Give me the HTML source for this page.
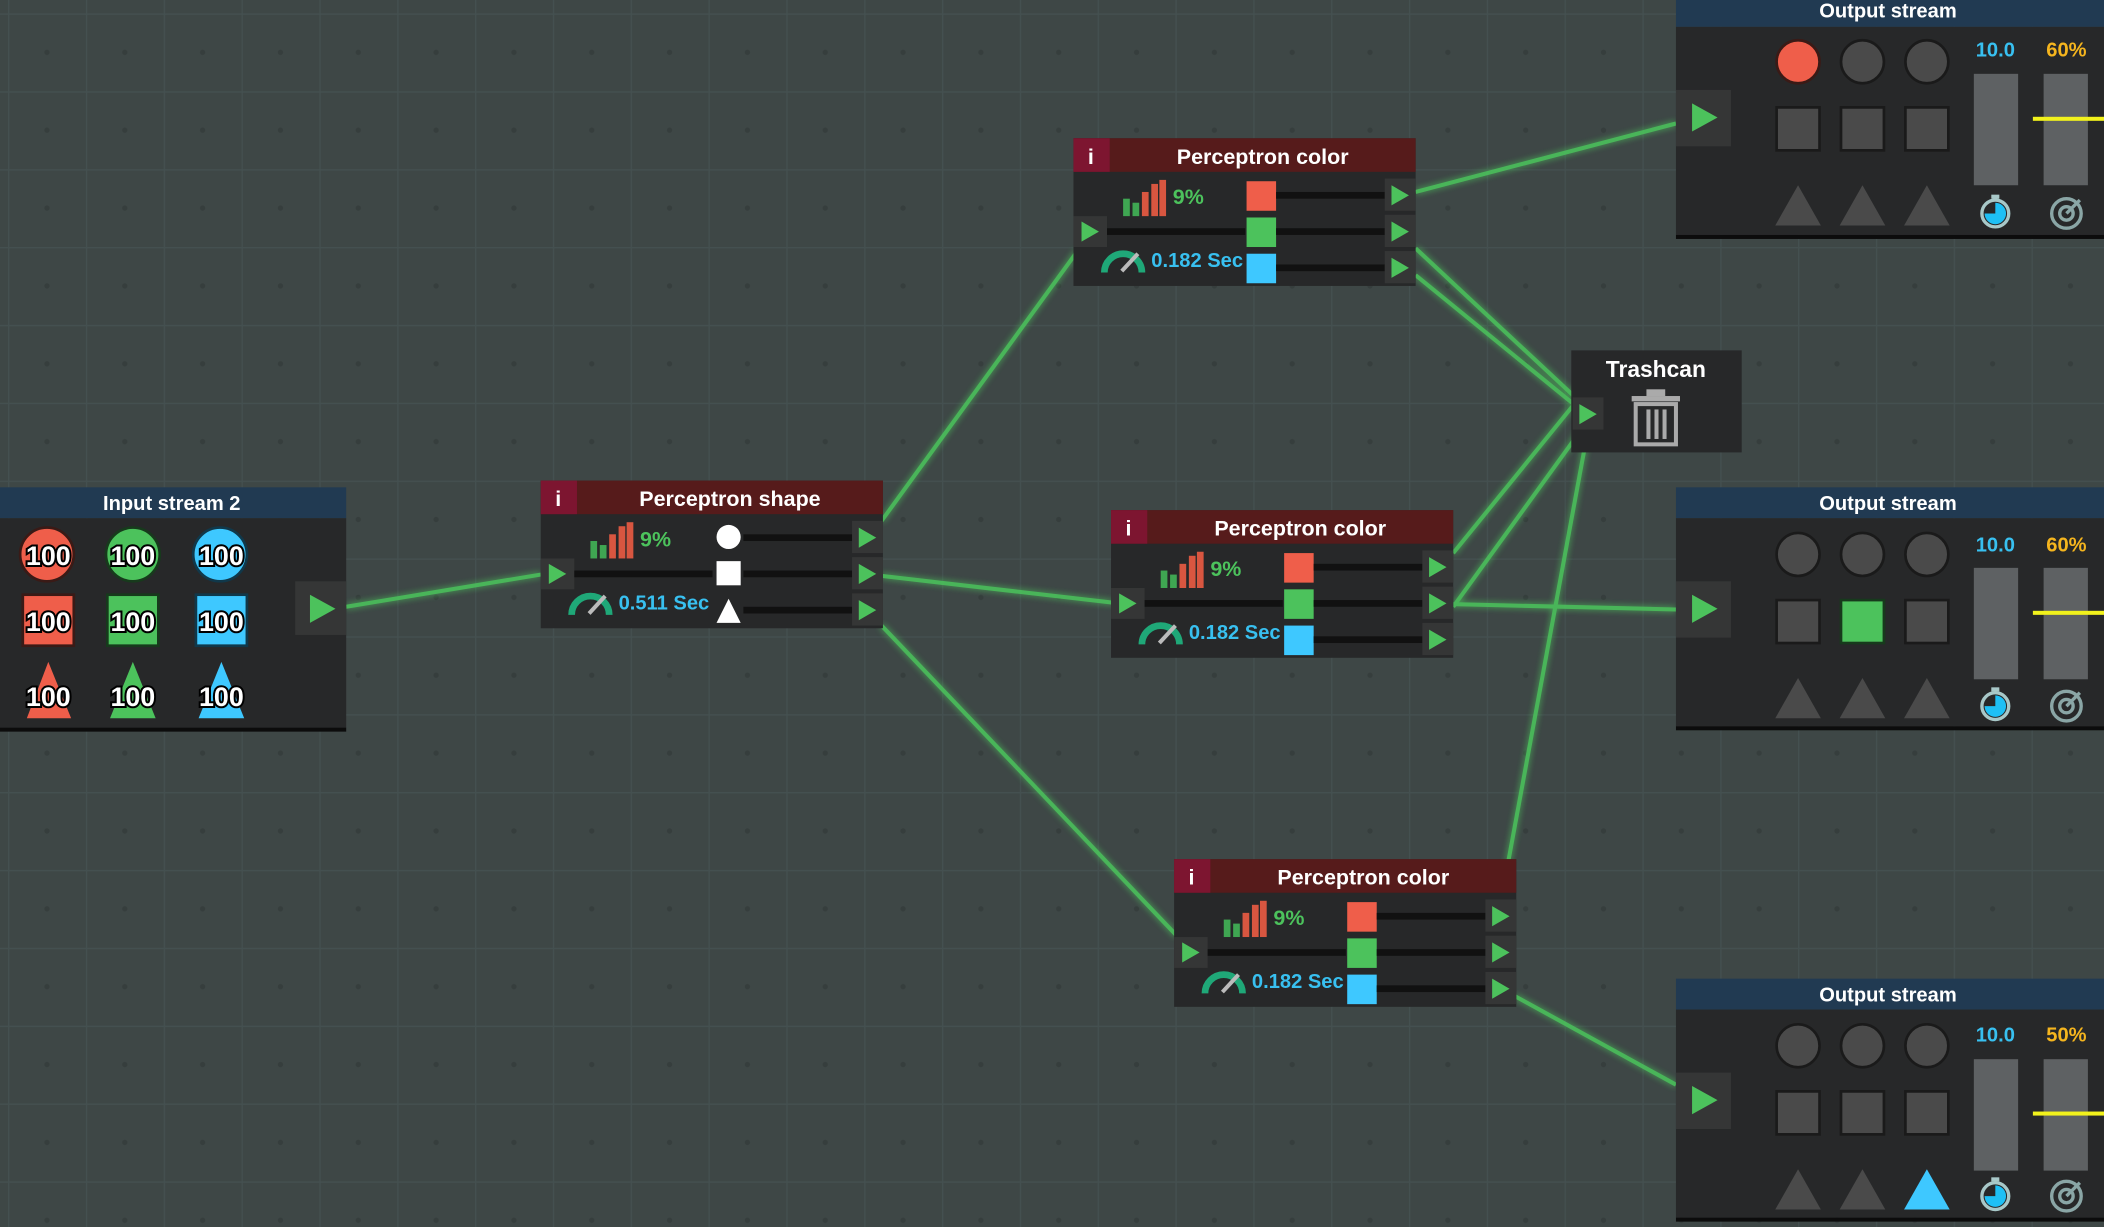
<!DOCTYPE html>
<html><head><meta charset="utf-8"><style>
html,body{margin:0;padding:0;background:#3e4746;overflow:hidden}
svg{display:block}
text{font-family:"Liberation Sans",sans-serif;font-weight:bold}
</style></head><body>
<svg width="2104" height="1227" viewBox="0 0 1568 914" preserveAspectRatio="none" xmlns="http://www.w3.org/2000/svg">
<defs>
<pattern id="grid" x="6" y="10" width="58" height="58" patternUnits="userSpaceOnUse">
<rect width="58" height="58" fill="#3e4746"/>
<path d="M0 0.5H58M0.5 0V58" stroke="#445050" stroke-width="1"/>
<circle cx="29" cy="29" r="2" fill="#363e3d"/>
</pattern>
<filter id="glow" x="-20%" y="-20%" width="140%" height="140%"><feGaussianBlur stdDeviation="2.5" result="b"/><feMerge><feMergeNode in="b"/><feMergeNode in="SourceGraphic"/></feMerge></filter>
</defs>
<rect width="1568" height="914" fill="url(#grid)"/>

<!-- connectors -->
<g stroke="#4cc25c" stroke-width="3" fill="none" filter="url(#glow)" opacity="0.9">
<line x1="258" y1="452" x2="403" y2="428"/>
<line x1="657" y1="388" x2="803" y2="187"/>
<line x1="657" y1="429" x2="830" y2="449"/>
<line x1="657" y1="466" x2="877" y2="697"/>
<line x1="1055" y1="143" x2="1249" y2="92"/>
<line x1="1055" y1="185" x2="1174" y2="296"/>
<line x1="1055" y1="205" x2="1174" y2="302"/>
<line x1="1083" y1="412" x2="1174" y2="300"/>
<line x1="1083" y1="452" x2="1180" y2="318"/>
<line x1="1083" y1="450" x2="1249" y2="454"/>
<line x1="1124" y1="642" x2="1182" y2="328"/>
<line x1="1129" y1="742" x2="1249" y2="808"/>
</g>

<!-- Input stream 2 -->
<g transform="translate(0,363)">
<rect x="0" y="0" width="258" height="23" fill="#213a52"/>
<rect x="0" y="23" width="258" height="156" fill="#272829"/>
<rect x="0" y="179" width="258" height="3" fill="#0c0c0c"/>
<text x="128" y="17" fill="#fff" font-size="15" text-anchor="middle">Input stream 2</text>
<circle cx="35" cy="50" r="20" fill="#ef5e4a" stroke="#3a1a16" stroke-width="2"/>
<circle cx="99" cy="50" r="20" fill="#4cc25c" stroke="#173a1c" stroke-width="2"/>
<circle cx="164" cy="50" r="20" fill="#3ec8ff" stroke="#10384a" stroke-width="2"/>
<rect x="17" y="80" width="38" height="38" fill="#ef5e4a" stroke="#3a1a16" stroke-width="2"/>
<rect x="80" y="80" width="38" height="38" fill="#4cc25c" stroke="#173a1c" stroke-width="2"/>
<rect x="146" y="80" width="38" height="38" fill="#3ec8ff" stroke="#10384a" stroke-width="2"/>
<polygon points="20,172 36,130 53,172" fill="#ef5e4a"/>
<polygon points="82,172 99,130 116,172" fill="#4cc25c"/>
<polygon points="148,172 165,130 182,172" fill="#3ec8ff"/>
<g font-size="20" fill="#fff" stroke="#000" stroke-width="3" paint-order="stroke" text-anchor="middle">
<text x="36" y="58">100</text><text x="99" y="58">100</text><text x="165" y="58">100</text>
<text x="36" y="107">100</text><text x="99" y="107">100</text><text x="165" y="107">100</text>
<text x="36" y="163">100</text><text x="99" y="163">100</text><text x="165" y="163">100</text>
</g>
<rect x="220" y="70" width="38" height="40" fill="#353636"/>
<polygon points="231,80 231,101 250,90.5" fill="#4cc25c"/>
</g>

<!-- Perceptron shape -->
<g transform="translate(403,358)">
<rect width="255" height="110" fill="#272829"/>
<rect width="255" height="25" fill="#561b1b"/>
<rect width="27" height="25" fill="#7d1530"/>
<text x="13" y="19" fill="#fff" font-size="16" text-anchor="middle">i</text>
<text x="141" y="19" fill="#fff" font-size="16" text-anchor="middle">Perceptron shape</text>
<rect x="0" y="58" width="25" height="23" fill="#353636"/><polygon points="6,62 6,77 19,69.5" fill="#4cc25c"/>
<rect x="25" y="67" width="103" height="5" fill="#111"/>
<rect x="37" y="45" width="5" height="13" fill="#3fa652"/><rect x="44" y="48" width="5" height="10" fill="#3fa652"/>
<rect x="51" y="40" width="5" height="18" fill="#d85640"/><rect x="58" y="34" width="5" height="24" fill="#d85640"/><rect x="64" y="31" width="5" height="27" fill="#d85640"/>
<text x="74" y="49" fill="#4cc25c" font-size="16">9%</text>
<path d="M23 100 A14 14 0 0 1 51 100" stroke="#1fa878" stroke-width="5" fill="none"/>
<line x1="36" y1="99" x2="48" y2="86" stroke="#bbb" stroke-width="3"/>
<text x="58" y="96" fill="#38c0f0" font-size="15">0.511 Sec</text>
<circle cx="140" cy="42" r="9" fill="#fff"/>
<rect x="131" y="60" width="18" height="18" fill="#fff"/>
<polygon points="131,106 140,88 149,106" fill="#fff"/>
<rect x="151" y="40" width="81" height="5" fill="#111"/><rect x="151" y="67" width="81" height="5" fill="#111"/><rect x="151" y="94" width="81" height="5" fill="#111"/>
<rect x="232" y="30" width="23" height="24" fill="#353636"/><polygon points="237,35 237,50 250,42.5" fill="#4cc25c"/>
<rect x="232" y="57" width="23" height="24" fill="#353636"/><polygon points="237,62 237,77 250,69.5" fill="#4cc25c"/>
<rect x="232" y="84" width="23" height="24" fill="#353636"/><polygon points="237,89 237,104 250,96.5" fill="#4cc25c"/>
</g>

<!-- Perceptron color x3 -->
<g transform="translate(800,103)">
<rect width="255" height="110" fill="#272829"/>
<rect width="255" height="25" fill="#561b1b"/>
<rect width="27" height="25" fill="#7d1530"/>
<text x="13" y="19" fill="#fff" font-size="16" text-anchor="middle">i</text>
<text x="141" y="19" fill="#fff" font-size="16" text-anchor="middle">Perceptron color</text>
<rect x="0" y="58" width="25" height="23" fill="#353636"/><polygon points="6,62 6,77 19,69.5" fill="#4cc25c"/>
<rect x="25" y="67" width="103" height="5" fill="#111"/>
<rect x="37" y="45" width="5" height="13" fill="#3fa652"/><rect x="44" y="48" width="5" height="10" fill="#3fa652"/>
<rect x="51" y="40" width="5" height="18" fill="#d85640"/><rect x="58" y="34" width="5" height="24" fill="#d85640"/><rect x="64" y="31" width="5" height="27" fill="#d85640"/>
<text x="74" y="49" fill="#4cc25c" font-size="16">9%</text>
<path d="M23 100 A14 14 0 0 1 51 100" stroke="#1fa878" stroke-width="5" fill="none"/>
<line x1="36" y1="99" x2="48" y2="86" stroke="#bbb" stroke-width="3"/>
<text x="58" y="96" fill="#38c0f0" font-size="15">0.182 Sec</text>
<rect x="129" y="32" width="22" height="22" fill="#ef5e4a"/><rect x="129" y="59" width="22" height="22" fill="#4cc25c"/><rect x="129" y="86" width="22" height="22" fill="#3ec8ff"/>
<rect x="151" y="40" width="81" height="5" fill="#111"/><rect x="151" y="67" width="81" height="5" fill="#111"/><rect x="151" y="94" width="81" height="5" fill="#111"/>
<rect x="232" y="30" width="23" height="24" fill="#353636"/><polygon points="237,35 237,50 250,42.5" fill="#4cc25c"/>
<rect x="232" y="57" width="23" height="24" fill="#353636"/><polygon points="237,62 237,77 250,69.5" fill="#4cc25c"/>
<rect x="232" y="84" width="23" height="24" fill="#353636"/><polygon points="237,89 237,104 250,96.5" fill="#4cc25c"/>
</g>
<g transform="translate(828,380)">
<rect width="255" height="110" fill="#272829"/>
<rect width="255" height="25" fill="#561b1b"/>
<rect width="27" height="25" fill="#7d1530"/>
<text x="13" y="19" fill="#fff" font-size="16" text-anchor="middle">i</text>
<text x="141" y="19" fill="#fff" font-size="16" text-anchor="middle">Perceptron color</text>
<rect x="0" y="58" width="25" height="23" fill="#353636"/><polygon points="6,62 6,77 19,69.5" fill="#4cc25c"/>
<rect x="25" y="67" width="103" height="5" fill="#111"/>
<rect x="37" y="45" width="5" height="13" fill="#3fa652"/><rect x="44" y="48" width="5" height="10" fill="#3fa652"/>
<rect x="51" y="40" width="5" height="18" fill="#d85640"/><rect x="58" y="34" width="5" height="24" fill="#d85640"/><rect x="64" y="31" width="5" height="27" fill="#d85640"/>
<text x="74" y="49" fill="#4cc25c" font-size="16">9%</text>
<path d="M23 100 A14 14 0 0 1 51 100" stroke="#1fa878" stroke-width="5" fill="none"/>
<line x1="36" y1="99" x2="48" y2="86" stroke="#bbb" stroke-width="3"/>
<text x="58" y="96" fill="#38c0f0" font-size="15">0.182 Sec</text>
<rect x="129" y="32" width="22" height="22" fill="#ef5e4a"/><rect x="129" y="59" width="22" height="22" fill="#4cc25c"/><rect x="129" y="86" width="22" height="22" fill="#3ec8ff"/>
<rect x="151" y="40" width="81" height="5" fill="#111"/><rect x="151" y="67" width="81" height="5" fill="#111"/><rect x="151" y="94" width="81" height="5" fill="#111"/>
<rect x="232" y="30" width="23" height="24" fill="#353636"/><polygon points="237,35 237,50 250,42.5" fill="#4cc25c"/>
<rect x="232" y="57" width="23" height="24" fill="#353636"/><polygon points="237,62 237,77 250,69.5" fill="#4cc25c"/>
<rect x="232" y="84" width="23" height="24" fill="#353636"/><polygon points="237,89 237,104 250,96.5" fill="#4cc25c"/>
</g>
<g transform="translate(875,640)">
<rect width="255" height="110" fill="#272829"/>
<rect width="255" height="25" fill="#561b1b"/>
<rect width="27" height="25" fill="#7d1530"/>
<text x="13" y="19" fill="#fff" font-size="16" text-anchor="middle">i</text>
<text x="141" y="19" fill="#fff" font-size="16" text-anchor="middle">Perceptron color</text>
<rect x="0" y="58" width="25" height="23" fill="#353636"/><polygon points="6,62 6,77 19,69.5" fill="#4cc25c"/>
<rect x="25" y="67" width="103" height="5" fill="#111"/>
<rect x="37" y="45" width="5" height="13" fill="#3fa652"/><rect x="44" y="48" width="5" height="10" fill="#3fa652"/>
<rect x="51" y="40" width="5" height="18" fill="#d85640"/><rect x="58" y="34" width="5" height="24" fill="#d85640"/><rect x="64" y="31" width="5" height="27" fill="#d85640"/>
<text x="74" y="49" fill="#4cc25c" font-size="16">9%</text>
<path d="M23 100 A14 14 0 0 1 51 100" stroke="#1fa878" stroke-width="5" fill="none"/>
<line x1="36" y1="99" x2="48" y2="86" stroke="#bbb" stroke-width="3"/>
<text x="58" y="96" fill="#38c0f0" font-size="15">0.182 Sec</text>
<rect x="129" y="32" width="22" height="22" fill="#ef5e4a"/><rect x="129" y="59" width="22" height="22" fill="#4cc25c"/><rect x="129" y="86" width="22" height="22" fill="#3ec8ff"/>
<rect x="151" y="40" width="81" height="5" fill="#111"/><rect x="151" y="67" width="81" height="5" fill="#111"/><rect x="151" y="94" width="81" height="5" fill="#111"/>
<rect x="232" y="30" width="23" height="24" fill="#353636"/><polygon points="237,35 237,50 250,42.5" fill="#4cc25c"/>
<rect x="232" y="57" width="23" height="24" fill="#353636"/><polygon points="237,62 237,77 250,69.5" fill="#4cc25c"/>
<rect x="232" y="84" width="23" height="24" fill="#353636"/><polygon points="237,89 237,104 250,96.5" fill="#4cc25c"/>
</g>

<!-- Trashcan -->
<g transform="translate(1171,261)">
<rect width="127" height="76" fill="#272829"/>
<text x="63" y="20" fill="#fff" font-size="17" text-anchor="middle">Trashcan</text>
<rect x="1" y="35" width="23" height="24" fill="#353636"/><polygon points="6,40 6,55 19,47.5" fill="#4cc25c"/>
<rect x="45" y="34" width="36" height="4" fill="#aaa"/><rect x="56" y="29" width="14" height="5" fill="#aaa"/>
<rect x="48" y="40" width="30" height="30" fill="none" stroke="#aaa" stroke-width="3"/>
<rect x="56" y="44" width="3" height="22" fill="#aaa"/><rect x="62" y="44" width="3" height="22" fill="#aaa"/><rect x="68" y="44" width="3" height="22" fill="#aaa"/>
</g>

<!-- Output streams -->
<g transform="translate(1249,-3)">
<rect width="319" height="23" fill="#213a52"/><rect y="23" width="319" height="155" fill="#272829"/><rect y="178" width="319" height="3" fill="#0c0c0c"/>
<text x="158" y="16" fill="#fff" font-size="15" text-anchor="middle">Output stream</text>
<rect x="0" y="70" width="41" height="42" fill="#353636"/><polygon points="12,80 12,101 31,90.5" fill="#4cc25c"/>
<circle cx="91" cy="49" r="16" fill="#ef5e4a" stroke="#3a1a16" stroke-width="2"/><circle cx="139" cy="49" r="16" fill="#4a4a4a" stroke="#1a1a1a" stroke-width="2"/><circle cx="187" cy="49" r="16" fill="#4a4a4a" stroke="#1a1a1a" stroke-width="2"/>
<rect x="75" y="83" width="32" height="32" fill="#4a4a4a" stroke="#1a1a1a" stroke-width="2"/><rect x="123" y="83" width="32" height="32" fill="#4a4a4a" stroke="#1a1a1a" stroke-width="2"/><rect x="171" y="83" width="32" height="32" fill="#4a4a4a" stroke="#1a1a1a" stroke-width="2"/>
<polygon points="74,171 91,141 108,171" fill="#4a4a4a"/><polygon points="122,171 139,141 156,171" fill="#4a4a4a"/><polygon points="170,171 187,141 204,171" fill="#4a4a4a"/>
<text x="238" y="45" fill="#38c0f0" font-size="15" text-anchor="middle">10.0</text><text x="291" y="45" fill="#f5b51e" font-size="15" text-anchor="middle">60%</text>
<rect x="222" y="58" width="33" height="83" fill="#5e6163"/><rect x="274" y="58" width="33" height="83" fill="#5e6163"/>
<rect x="266" y="90" width="53" height="3" fill="#f2f21c"/>
<circle cx="238" cy="162" r="10" fill="none" stroke="#a8c8c8" stroke-width="2.5"/><path d="M238 162 V154 A8 8 0 1 1 230 162 Z" fill="#1ec0f5"/><rect x="235" y="148" width="6" height="3" fill="#a8c8c8"/>
<circle cx="291" cy="162" r="11" fill="none" stroke="#8aa6a6" stroke-width="2.5"/><circle cx="291" cy="162" r="5" fill="none" stroke="#8aa6a6" stroke-width="2.5"/><line x1="291" y1="162" x2="301" y2="152" stroke="#8aa6a6" stroke-width="2.5"/>
</g>
<g transform="translate(1249,363)">
<rect width="319" height="23" fill="#213a52"/><rect y="23" width="319" height="155" fill="#272829"/><rect y="178" width="319" height="3" fill="#0c0c0c"/>
<text x="158" y="17" fill="#fff" font-size="15" text-anchor="middle">Output stream</text>
<rect x="0" y="70" width="41" height="42" fill="#353636"/><polygon points="12,80 12,101 31,90.5" fill="#4cc25c"/>
<circle cx="91" cy="50" r="16" fill="#4a4a4a" stroke="#1a1a1a" stroke-width="2"/><circle cx="139" cy="50" r="16" fill="#4a4a4a" stroke="#1a1a1a" stroke-width="2"/><circle cx="187" cy="50" r="16" fill="#4a4a4a" stroke="#1a1a1a" stroke-width="2"/>
<rect x="75" y="84" width="32" height="32" fill="#4a4a4a" stroke="#1a1a1a" stroke-width="2"/><rect x="123" y="84" width="32" height="32" fill="#4cc25c" stroke="#173a1c" stroke-width="2"/><rect x="171" y="84" width="32" height="32" fill="#4a4a4a" stroke="#1a1a1a" stroke-width="2"/>
<polygon points="74,172 91,142 108,172" fill="#4a4a4a"/><polygon points="122,172 139,142 156,172" fill="#4a4a4a"/><polygon points="170,172 187,142 204,172" fill="#4a4a4a"/>
<text x="238" y="48" fill="#38c0f0" font-size="15" text-anchor="middle">10.0</text><text x="291" y="48" fill="#f5b51e" font-size="15" text-anchor="middle">60%</text>
<rect x="222" y="60" width="33" height="83" fill="#5e6163"/><rect x="274" y="60" width="33" height="83" fill="#5e6163"/>
<rect x="266" y="92" width="53" height="3" fill="#f2f21c"/>
<circle cx="238" cy="163" r="10" fill="none" stroke="#a8c8c8" stroke-width="2.5"/><path d="M238 163 V155 A8 8 0 1 1 230 163 Z" fill="#1ec0f5"/><rect x="235" y="149" width="6" height="3" fill="#a8c8c8"/>
<circle cx="291" cy="163" r="11" fill="none" stroke="#8aa6a6" stroke-width="2.5"/><circle cx="291" cy="163" r="5" fill="none" stroke="#8aa6a6" stroke-width="2.5"/><line x1="291" y1="163" x2="301" y2="153" stroke="#8aa6a6" stroke-width="2.5"/>
</g>
<g transform="translate(1249,729)">
<rect width="319" height="23" fill="#213a52"/><rect y="23" width="319" height="155" fill="#272829"/><rect y="178" width="319" height="3" fill="#0c0c0c"/>
<text x="158" y="17" fill="#fff" font-size="15" text-anchor="middle">Output stream</text>
<rect x="0" y="70" width="41" height="42" fill="#353636"/><polygon points="12,80 12,101 31,90.5" fill="#4cc25c"/>
<circle cx="91" cy="50" r="16" fill="#4a4a4a" stroke="#1a1a1a" stroke-width="2"/><circle cx="139" cy="50" r="16" fill="#4a4a4a" stroke="#1a1a1a" stroke-width="2"/><circle cx="187" cy="50" r="16" fill="#4a4a4a" stroke="#1a1a1a" stroke-width="2"/>
<rect x="75" y="84" width="32" height="32" fill="#4a4a4a" stroke="#1a1a1a" stroke-width="2"/><rect x="123" y="84" width="32" height="32" fill="#4a4a4a" stroke="#1a1a1a" stroke-width="2"/><rect x="171" y="84" width="32" height="32" fill="#4a4a4a" stroke="#1a1a1a" stroke-width="2"/>
<polygon points="74,172 91,142 108,172" fill="#4a4a4a"/><polygon points="122,172 139,142 156,172" fill="#4a4a4a"/><polygon points="170,172 187,142 204,172" fill="#3ec8ff"/>
<text x="238" y="47" fill="#38c0f0" font-size="15" text-anchor="middle">10.0</text><text x="291" y="47" fill="#f5b51e" font-size="15" text-anchor="middle">50%</text>
<rect x="222" y="60" width="33" height="83" fill="#5e6163"/><rect x="274" y="60" width="33" height="83" fill="#5e6163"/>
<rect x="266" y="99" width="53" height="3" fill="#f2f21c"/>
<circle cx="238" cy="162" r="10" fill="none" stroke="#a8c8c8" stroke-width="2.5"/><path d="M238 162 V154 A8 8 0 1 1 230 162 Z" fill="#1ec0f5"/><rect x="235" y="148" width="6" height="3" fill="#a8c8c8"/>
<circle cx="291" cy="162" r="11" fill="none" stroke="#8aa6a6" stroke-width="2.5"/><circle cx="291" cy="162" r="5" fill="none" stroke="#8aa6a6" stroke-width="2.5"/><line x1="291" y1="162" x2="301" y2="152" stroke="#8aa6a6" stroke-width="2.5"/>
</g>
</svg>
</body></html>
